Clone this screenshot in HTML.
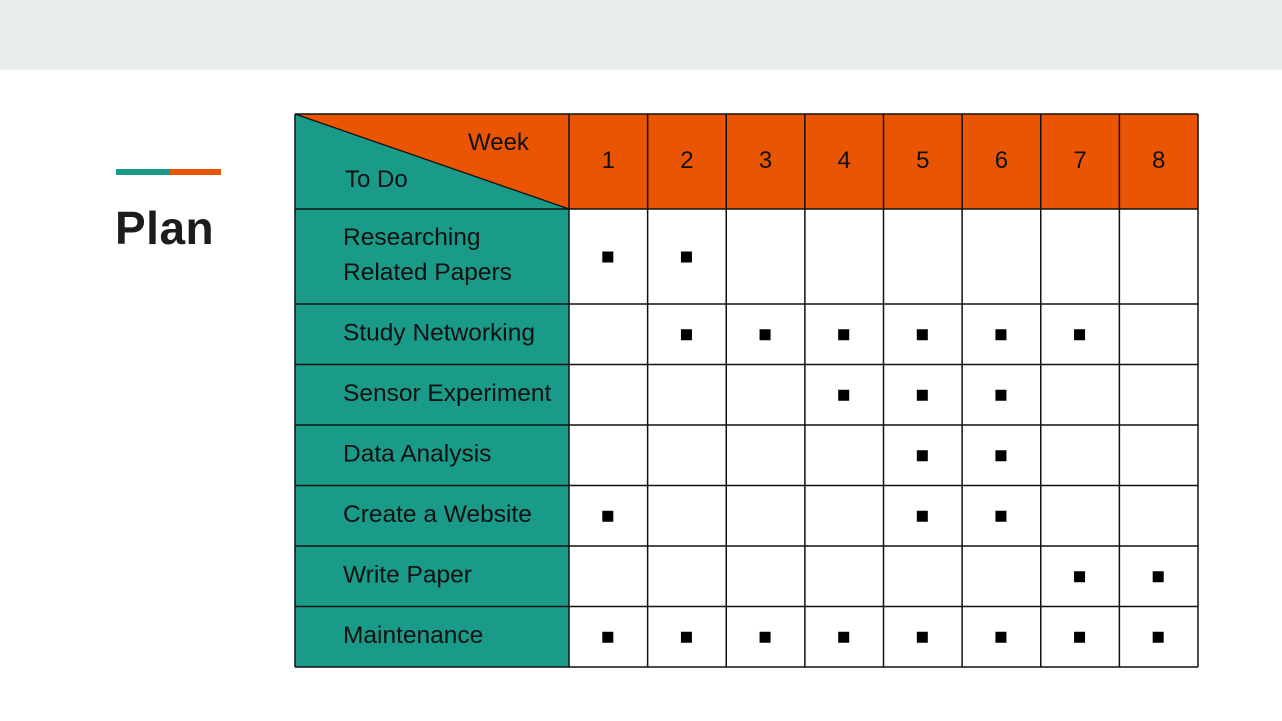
<!DOCTYPE html>
<html><head><meta charset="utf-8"><style>
body{margin:0;width:1282px;height:721px;background:#fff;overflow:hidden;position:relative;font-family:"Liberation Sans",sans-serif}
</style></head><body>
<div style="position:absolute;left:0;top:0;width:1282px;height:70px;background:#e9ecec"></div>
<div style="position:absolute;left:116px;top:169px;width:53px;height:6px;background:#1a9a88"></div>
<div style="position:absolute;left:169px;top:169px;width:52px;height:6px;background:#ea5504"></div>
<div style="position:absolute;left:115px;top:201px;font-size:46px;font-weight:bold;color:#1c1c1c;line-height:54px;letter-spacing:0.5px">Plan</div>
<svg id="chart" width="1282" height="721" style="position:absolute;left:0;top:0"></svg>
<script>
const weeks=["1","2","3","4","5","6","7","8"];
const tasks=[["Researching","Related Papers"],["Study Networking"],["Sensor Experiment"],["Data Analysis"],["Create a Website"],["Write Paper"],["Maintenance"]];
const schedule=[[1,1,0,0,0,0,0,0],[0,1,1,1,1,1,1,0],[0,0,0,1,1,1,0,0],[0,0,0,0,1,1,0,0],[1,0,0,0,1,1,0,0],[0,0,0,0,0,0,1,1],[1,1,1,1,1,1,1,1]];
const svg=document.getElementById('chart');const NS='http://www.w3.org/2000/svg';
const L=295,C0=569,R=1198,T=114,H0=209,B=667,R1=304;
const cw=(R-C0)/weeks.length;
const colX=i=>C0+i*cw;
const rowY=i=>i===0?H0:R1+(i-1)*(B-R1)/(tasks.length-1);
const rowH=i=>rowY(i+1)-rowY(i);
function el(t,a,p){const e=document.createElementNS(NS,t);for(const k in a)e.setAttribute(k,a[k]);(p||svg).appendChild(e);return e;}
let e=el('rect',{x:C0,y:T,width:R-C0,height:H0-T,fill:'#ea5504'});

e=el('rect',{x:L,y:H0,width:C0-L,height:B-H0,fill:'#1a9a88'});

e=el('polygon',{points:`${L},${T} ${C0},${T} ${C0},${H0}`,fill:'#ea5504'});

e=el('polygon',{points:`${L},${T} ${C0},${H0} ${L},${H0}`,fill:'#1a9a88'});

e=el('line',{x1:L,y1:T,x2:C0,y2:H0,stroke:'#111','stroke-width':1.3});

e=el('text',{x:468,y:150,'font-size':24,fill:'#111'});e.textContent='Week';

e=el('text',{x:345,y:187,'font-size':24,fill:'#111'});e.textContent='To Do';

weeks.forEach((w,i)=>{const t=el('text',{x:colX(i)+cw/2,y:168,'font-size':24,fill:'#111','text-anchor':'middle'});t.textContent=w;
});
tasks.forEach((lines,r)=>{const y0=rowY(r),h=rowH(r);
 lines.forEach((s,j)=>{const t=el('text',{x:343,y:y0+h/2+6+(j-(lines.length-1)/2)*35,'font-size':24.5,fill:'#111'});t.textContent=s;
 });
 schedule[r].forEach((v,c)=>{if(v){const m=el('rect',{x:colX(c)+cw/2-6,y:y0+h/2-5,width:11,height:11,fill:'#000'});
 }});
});
const g=el('g',{stroke:'#111','stroke-width':1.5});

[L,...weeks.map((_,i)=>colX(i)),R].forEach(x=>el('line',{x1:x,y1:T,x2:x,y2:B},g));
[T,...tasks.map((_,i)=>rowY(i)),B].forEach(y=>el('line',{x1:L,y1:y,x2:R,y2:y},g));
</script>
</body></html>
